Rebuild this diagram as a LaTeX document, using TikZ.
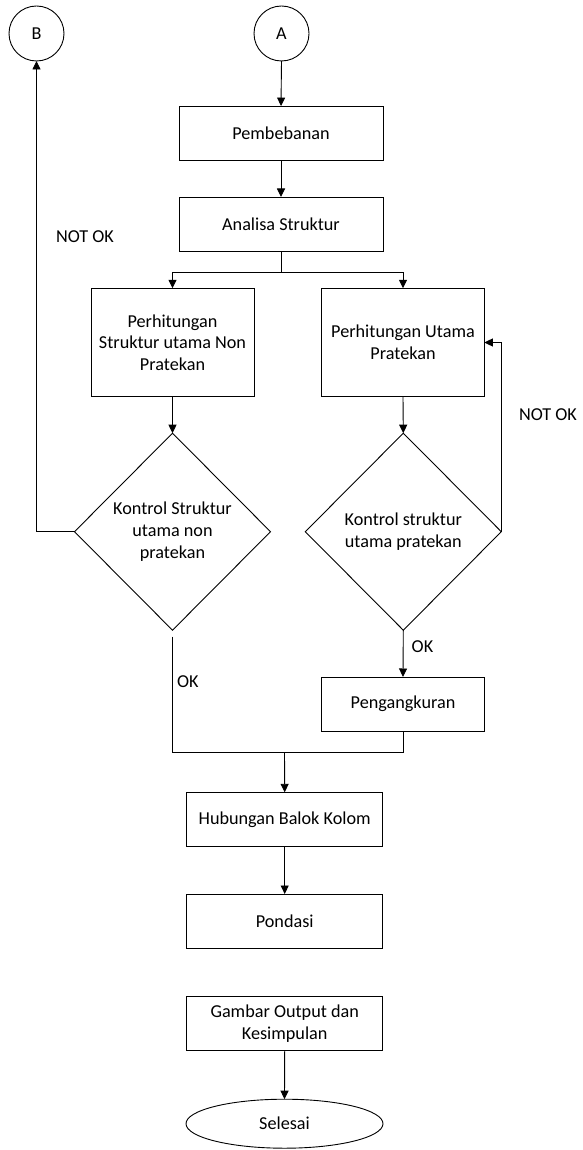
\documentclass[tikz,border=0pt]{standalone}
\usepackage{fontspec}
\setmainfont{Carlito}
\usetikzlibrary{shapes.geometric,arrows.meta}
\begin{document}
\begin{tikzpicture}[x=1pt,y=-1pt,
  font=\fontsize{18.2}{21.7}\selectfont,
  every node/.style={inner sep=0pt, outer sep=0pt},
  conn/.style={draw=black, circle, line width=0.9pt, minimum size=55pt},
  proc/.style={draw=black, rectangle, line width=0.9pt, align=center},
  dec/.style={draw=black, diamond, aspect=1, line width=0.9pt, align=center, minimum width=196pt, minimum height=197pt},
  term/.style={draw=black, ellipse, line width=0.9pt, minimum width=197pt, minimum height=49pt},
  line/.style={draw=black, line width=0.9pt},
  arr/.style={line, -{Triangle[length=8.5pt,width=8pt]}},
  lbl/.style={text=black}]
\useasboundingbox (0,0) rectangle (582,1150);

\node[conn] (B) at (36.5,33.5) {B};
\node[conn] (A) at (281.5,33.5) {A};
\node[proc, minimum width=204pt, minimum height=54.5pt] (pemb) at (281,133.3) {Pembebanan};
\node[proc, minimum width=204pt, minimum height=54pt] (anal) at (281,224) {Analisa Struktur};
\node[proc, minimum width=163pt, minimum height=108.5pt] (lbox) at (172.5,342.5) {Perhitungan\\Struktur utama Non\\Pratekan};
\node[proc, minimum width=162.6pt, minimum height=108.5pt] (rbox) at (403,342.5) {Perhitungan Utama\\Pratekan};
\node[dec] (ld) at (172.5,531.7) {Kontrol Struktur\\utama non\\pratekan};
\node[dec] (rd) at (403.3,531.7) {Kontrol struktur\\utama pratekan};
\node[proc, minimum width=162.6pt, minimum height=54pt] (peng) at (403,704) {Pengangkuran};
\node[proc, minimum width=196pt, minimum height=54pt] (hub) at (284.7,819.3) {Hubungan Balok Kolom};
\node[proc, minimum width=196pt, minimum height=54pt] (pond) at (284.7,921) {Pondasi};
\node[proc, minimum width=196pt, minimum height=54pt] (gamb) at (284.7,1023.7) {Gambar Output dan\\Kesimpulan};
\node[term] (sel) at (284.5,1123.7) {Selesai};

\node[lbl] (nok1) at (85,237) {NOT OK};
\node[lbl] (nok2) at (548,415) {NOT OK};
\node[lbl, anchor=west] (ok1) at (177,682) {OK};
\node[lbl, anchor=west] (ok2) at (411.7,646.7) {OK};

\coordinate (split) at (281,272);
\coordinate (merge) at (284.5,752);

\draw[arr] (A.south) -- (pemb.north);
\draw[arr] (pemb.south) -- (anal.north);
\draw[line] (anal.south) -- (split);
\draw[arr] (split) -| (lbox.north);
\draw[arr] (split) -| (rbox.north);
\draw[arr] (lbox.south) -- (ld.north);
\draw[arr] (rbox.south) -- (rd.north);
\draw[arr] (ld.west) -| (B.south);
\draw[arr] (rd.east) |- (rbox.east);
\draw[arr] (rd.south) -- (peng.north);
\draw[line] ([yshift=-6.5pt]ld.south) |- (merge);
\draw[line] (peng.south) |- (merge);
\draw[arr] (merge) -- (hub.north);
\draw[arr] (hub.south) -- (pond.north);
\draw[arr] (gamb.south) -- (sel.north);
\end{tikzpicture}
\end{document}
